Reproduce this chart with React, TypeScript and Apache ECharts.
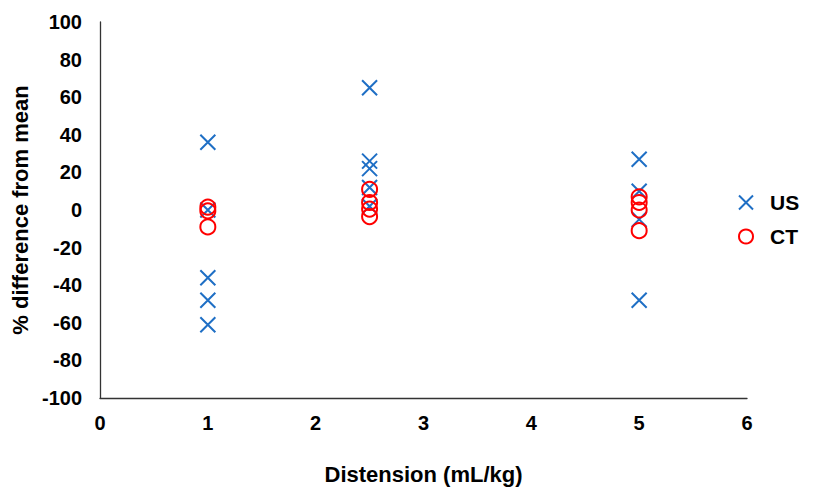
import React, { useEffect, useRef } from "react";
import * as echarts from "echarts";

const usX = [1, 1, 1, 1, 1, 2.5, 2.5, 2.5, 2.5, 2.5, 5, 5, 5, 5];
const usY = [36, 0, -36, -48, -61, 65, 26, 22, 12, 2, 27, 10, -5, -48];
const ctX = [1, 1, 1, 2.5, 2.5, 2.5, 2.5, 5, 5, 5, 5];
const ctY = [1.5, -0.5, -9, 11, 4, 0.5, -3.5, 7, 4, 0, -11];
const xTicks = { min: 0, max: 6, interval: 1 };
const yTicks = { min: -100, max: 100, interval: 20 };

const crossPath = "path://M0,0L10,10M10,0L0,10";
const blue = "#1f6fc5";
const red = "#ff0000";
const font = "'Liberation Sans', Arial, sans-serif";

export default function App() {
  const ref = useRef<HTMLDivElement>(null);
  useEffect(() => {
    document.body.style.margin = "0";
    const chart = echarts.init(ref.current!, null, { renderer: "svg" });
    chart.setOption({
      animation: false,
      grid: { left: 100, right: 69, top: 22, bottom: 88 },
      xAxis: {
        type: "value",
        ...xTicks,
        name: "Distension (mL/kg)",
        nameLocation: "middle",
        nameGap: 65,
        nameTextStyle: { fontFamily: font, fontWeight: "bold", fontSize: 22, color: "#000" },
        axisLine: { show: true, onZero: false, lineStyle: { color: "#333", width: 1.3 } },
        axisTick: { show: false },
        splitLine: { show: false },
        axisLabel: { fontFamily: font, fontWeight: "bold", fontSize: 20, color: "#000", margin: 15 },
      },
      yAxis: {
        type: "value",
        ...yTicks,
        name: "% difference from mean",
        nameLocation: "middle",
        nameGap: 61,
        nameTextStyle: { fontFamily: font, fontWeight: "bold", fontSize: 22, color: "#000" },
        axisLine: { show: true, onZero: false, lineStyle: { color: "#333", width: 1.3 } },
        axisTick: { show: false },
        splitLine: { show: false },
        axisLabel: { fontFamily: font, fontWeight: "bold", fontSize: 20, color: "#000", margin: 18 },
      },
      legend: {
        orient: "vertical",
        left: 738,
        top: 192,
        padding: 0,
        itemGap: 13,
        itemWidth: 14,
        itemHeight: 14,
        textStyle: { fontFamily: font, fontWeight: "bold", fontSize: 21, color: "#000", padding: [0, 0, 0, 12] },
        data: [
          { name: "US", icon: crossPath, itemStyle: { color: "transparent", borderColor: blue, borderWidth: 2 } },
          { name: "CT", icon: "circle", itemStyle: { color: "transparent", borderColor: red, borderWidth: 2 } },
        ],
      },
      series: [
        {
          name: "US",
          type: "scatter",
          symbol: crossPath,
          symbolSize: 15,
          itemStyle: { color: "transparent", borderColor: blue, borderWidth: 2, opacity: 1 },
          data: usX.map((x, i) => [x, usY[i]]),
        },
        {
          name: "CT",
          type: "scatter",
          symbol: "circle",
          symbolSize: 15,
          itemStyle: { color: "transparent", borderColor: red, borderWidth: 2, opacity: 1 },
          data: ctX.map((x, i) => [x, ctY[i]]),
        },
      ],
    });
    return () => chart.dispose();
  }, []);
  return <div ref={ref} style={{ width: 816, height: 490 }} />;
}
